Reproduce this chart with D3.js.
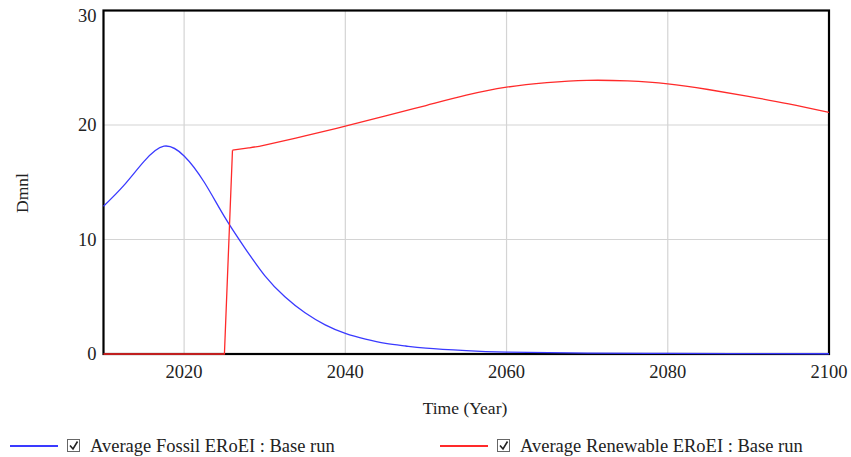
<!DOCTYPE html>
<html>
<head>
<meta charset="utf-8">
<script src="https://cdn.jsdelivr.net/npm/d3@7"></script>
<style>
  html, body { margin: 0; padding: 0; background: #fff; }
  #chart text { font-family: "Liberation Serif", Tinos, "Times New Roman", Times, "DejaVu Serif", serif; }
</style>
</head>
<body>
<svg id="chart" width="851" height="457"></svg>
<script>
// Average EROEI, base run
const fossilYears  = [2010, 2012.5, 2015, 2017.5, 2020, 2022.5, 2025, 2027.5, 2030, 2032.5, 2035, 2037.5, 2040, 2042.5, 2045, 2047.5, 2050, 2055, 2060, 2070, 2080, 2090, 2100];
const fossilValues = [12.9, 14.7, 16.8, 18.15, 17.3, 15.0, 12.0, 9.3, 6.85, 5.0, 3.6, 2.55, 1.8, 1.3, 0.93, 0.7, 0.52, 0.3, 0.17, 0.08, 0.05, 0.03, 0.02];

const renewableYears  = [2010, 2025, 2026, 2028, 2030, 2035, 2040, 2045, 2050, 2055, 2060, 2065, 2070, 2075, 2080, 2085, 2090, 2095, 2100];
const renewableValues = [0, 0, 17.8, 18.0, 18.25, 19.05, 19.9, 20.8, 21.7, 22.6, 23.3, 23.7, 23.9, 23.85, 23.6, 23.1, 22.5, 21.85, 21.1];

const xTicks = [2020, 2040, 2060, 2080, 2100];
const yTicks = [0, 10, 20, 30];

const seriesNames  = ["Average Fossil ERoEI : Base run", "Average Renewable ERoEI : Base run"];
const seriesColors = ["#3a3aff", "#ff2a2a"];

const FONT = "'Liberation Serif', Tinos, 'Times New Roman', Times, 'DejaVu Serif', serif";

const svg = d3.select("#chart");
const plotL = 103.5, plotR = 829, plotT = 10.5, plotB = 354;

const x = d3.scaleLinear().domain([2010, 2100]).range([plotL, plotR]);
const y = d3.scaleLinear().domain([0, 30]).range([plotB, plotT]);

// grid
const grid = svg.append("g").attr("stroke", "#d4d4d4").attr("stroke-width", 1.2);
xTicks.filter(t => t < 2100).forEach(t => {
  grid.append("line").attr("x1", x(t)).attr("x2", x(t)).attr("y1", plotT).attr("y2", plotB);
});
yTicks.filter(t => t > 0 && t < 30).forEach(t => {
  grid.append("line").attr("x1", plotL).attr("x2", plotR).attr("y1", y(t)).attr("y2", y(t));
});

// frame
svg.append("rect").attr("x", plotL).attr("y", plotT).attr("width", plotR - plotL).attr("height", plotB - plotT)
  .attr("fill", "none").attr("stroke", "#000").attr("stroke-width", 2.2);

// series
const smooth = d3.line().x(d => x(d[0])).y(d => y(d[1])).curve(d3.curveNatural);
const straight = d3.line().x(d => x(d[0])).y(d => y(d[1]));
const fossil = fossilYears.map((t, i) => [t, fossilValues[i]]);
const renewable = renewableYears.map((t, i) => [t, renewableValues[i]]);
// the renewable series switches on in one step, so its start is drawn straight
const jumpIdx = renewableYears.indexOf(2026);

svg.append("path").datum(fossil).attr("d", smooth).attr("fill", "none")
  .attr("stroke", seriesColors[0]).attr("stroke-width", 1.3);
svg.append("path").datum(renewable.slice(0, jumpIdx + 1)).attr("d", straight).attr("fill", "none")
  .attr("stroke", seriesColors[1]).attr("stroke-width", 1.3);
svg.append("path").datum(renewable.slice(jumpIdx)).attr("d", smooth).attr("fill", "none")
  .attr("stroke", seriesColors[1]).attr("stroke-width", 1.3);

// tick labels
const tickFont = 18.5;
svg.append("g").selectAll("text").data(xTicks).join("text")
  .attr("font-family", FONT)
  .attr("x", d => x(d)).attr("y", 378).attr("text-anchor", "middle")
  .attr("font-size", tickFont).attr("fill", "#222").text(d => d);
svg.append("g").selectAll("text").data(yTicks).join("text")
  .attr("font-family", FONT)
  .attr("x", 96.5).attr("y", d => Math.max(y(d), 16)).attr("dy", "0.34em").attr("text-anchor", "end")
  .attr("font-size", tickFont).attr("fill", "#222").text(d => d);

// axis titles
svg.append("text").attr("font-family", FONT).attr("x", 465).attr("y", 414).attr("text-anchor", "middle")
  .attr("font-size", 17.5).attr("fill", "#222").text("Time (Year)");
svg.append("text").attr("font-family", FONT).attr("transform", "translate(28,193) rotate(-90)").attr("text-anchor", "middle")
  .attr("font-size", 17.5).attr("fill", "#222").text("Dmnl");

// legend
const legendX = [10, 440];
const legend = svg.append("g");
seriesNames.forEach((name, i) => {
  const g = legend.append("g").attr("transform", `translate(${legendX[i]},446)`);
  g.append("line").attr("x1", 0).attr("x2", 48).attr("y1", 0).attr("y2", 0)
    .attr("stroke", seriesColors[i]).attr("stroke-width", 2.2);
  g.append("rect").attr("x", 57.5).attr("y", -6.5).attr("width", 12).attr("height", 12)
    .attr("fill", "#fff").attr("stroke", "#666").attr("stroke-width", 1);
  g.append("path").attr("d", "M60,-0.5 L63,3 L67.5,-4.5").attr("fill", "none")
    .attr("stroke", "#222").attr("stroke-width", 1.6);
  g.append("text").attr("font-family", FONT).attr("x", 80).attr("y", 0).attr("dy", "0.34em")
    .attr("font-size", 18.5).attr("fill", "#222").text(name);
});
</script>
</body>
</html>
